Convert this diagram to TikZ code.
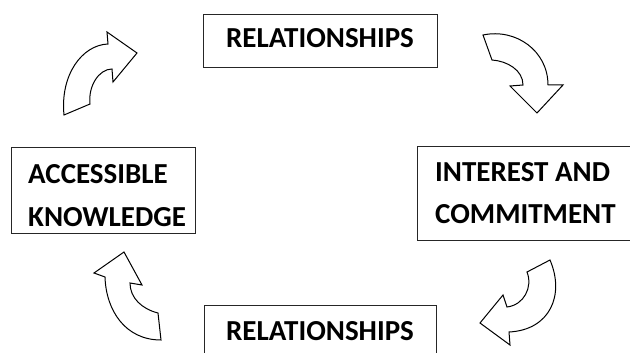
\documentclass[tikz,border=0pt]{standalone}
\usepackage{fontspec}
\setmainfont{Carlito}
\begin{document}
\begin{tikzpicture}[x=1pt,y=-1pt,
  box/.style={draw=black!85, line width=1.3pt, inner sep=0pt, anchor=north west},
  lbl/.style={font=\fontsize{29}{34}\selectfont\bfseries, inner sep=0pt, text=black},
  bendarrow/.style={draw=black, line width=1pt, line join=miter, fill=white}]
\useasboundingbox (0,0) rectangle (630,353);

% boxes
\node[box, minimum width=234pt, minimum height=53pt] (relTop) at (203,14) {};
\node[box, minimum width=232pt, minimum height=60pt] (relBot) at (204,305) {};
\node[box, minimum width=230pt, minimum height=94pt] (interest) at (417,146) {};
\node[box, minimum width=184pt, minimum height=86pt] (access) at (11,147) {};

% labels
\node[lbl, anchor=base] (relTopT) at (320,48) {RELATIONSHIPS};
\node[lbl, anchor=base] (relBotT) at (320,340) {RELATIONSHIPS};
\node[lbl, anchor=base west] (interestA) at (435,182) {INTEREST AND};
\node[lbl, anchor=base west] (interestB) at (435,223) {COMMITMENT};
\node[lbl, anchor=base west] (accessA) at (28,183) {ACCESSIBLE};
\node[lbl, anchor=base west] (accessB) at (28,226) {KNOWLEDGE};

% curved block arrows
% top left: knowledge -> relationships
\path[bendarrow] (64,115) -- (90,104)
  .. controls (88,86) and (99,69) .. (112,69)
  -- (113,82) -- (137,53) -- (107,32) -- (108,44)
  .. controls (82,45) and (60,75) .. (64,115) -- cycle;
% top right: relationships -> interest
\path[bendarrow] (483,35) -- (492,60)
  .. controls (507,61) and (523,70) .. (523,85)
  -- (510,86) -- (537,113) -- (563,85) -- (548,85)
  .. controls (548,51) and (516,28) .. (483,35) -- cycle;
% bottom right: interest -> relationships
\path[bendarrow] (550,260) -- (527,272)
  .. controls (533,287) and (524,305) .. (507,307)
  -- (503,295) -- (480,323) -- (510,345) -- (509,332)
  .. controls (550,330) and (565,295) .. (550,260) -- cycle;
% bottom left: relationships -> knowledge
\path[bendarrow] (161,340) -- (158,313)
  .. controls (142,309) and (130,298) .. (130,283)
  -- (142,285) -- (124,252) -- (94,273) -- (105,277)
  .. controls (106,310) and (125,340) .. (161,340) -- cycle;
\end{tikzpicture}
\end{document}
